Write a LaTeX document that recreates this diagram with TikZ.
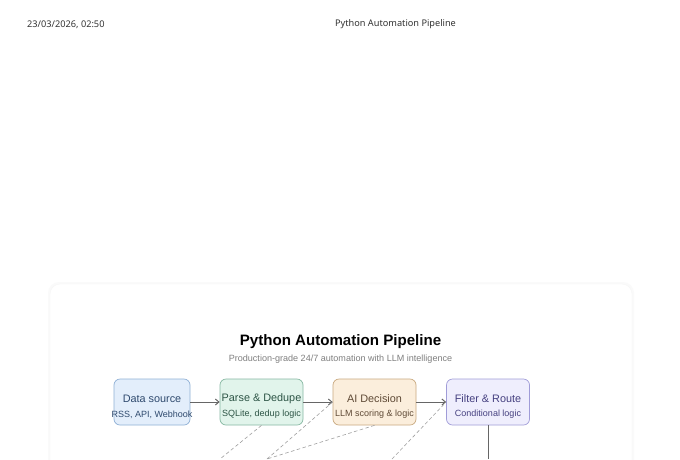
\documentclass[tikz,border=0pt]{standalone}
\usepackage{fontspec}
\setmainfont{Liberation Sans}
\newfontfamily\hdrfont{Noto Sans}
\usetikzlibrary{arrows.meta}
\definecolor{hdrtext}{HTML}{333333}
\definecolor{cardedge}{HTML}{F6F6F6}
\definecolor{arrowc}{HTML}{666666}
\definecolor{dashc}{HTML}{A0A0A0}
\definecolor{subc}{HTML}{808080}
\definecolor{bluef}{HTML}{E3EEFB}\definecolor{blued}{HTML}{8FB0D6}\definecolor{bluet}{HTML}{2F4A6E}
\definecolor{greenf}{HTML}{E1F4EB}\definecolor{greend}{HTML}{86B8A2}\definecolor{greent}{HTML}{2C5445}
\definecolor{orangef}{HTML}{FBEEDC}\definecolor{oranged}{HTML}{C9A97F}\definecolor{oranget}{HTML}{5F4A36}
\definecolor{purplef}{HTML}{EFEEFD}\definecolor{purpled}{HTML}{A09CD8}\definecolor{purplet}{HTML}{454080}
\tikzset{
  x=1pt,y=-1pt,
  hdr/.style={font=\hdrfont\fontsize{9.2}{10}\selectfont,text=hdrtext,inner sep=0pt},
  stagebox/.style={draw=#1d,fill=#1f,rounded corners=6pt,line width=.7pt,minimum height=46pt,inner sep=0pt},
  flow/.style={draw=arrowc,line width=1pt,-{Straight Barb[length=3.5pt,width=6pt]}},
  trunk/.style={draw=arrowc,line width=1pt},
  dashline/.style={draw=dashc,line width=.6pt,dash pattern=on 3.5pt off 2.5pt},
  mainl/.style={font=\fontsize{10.85}{12}\selectfont,inner sep=0pt,anchor=center},
  subl/.style={font=\fontsize{9}{10}\selectfont,inner sep=0pt,anchor=center},
}
\begin{document}
\begin{tikzpicture}
\useasboundingbox (0,0) rectangle (680,459);
\clip (0,0) rectangle (680,459);
\fill[white] (0,0) rectangle (680,459);
% card
\path[fill=black!2,rounded corners=11pt] (48,282) rectangle (634,480);
\path[fill=white,draw=cardedge,line width=.4pt,rounded corners=10pt] (50,284) rectangle (632,480);
% header
\node[hdr,anchor=west] (date) at (27,24.3) {23/03/2026, 02:50};
\node[hdr,anchor=center] (pagetitle) at (395.5,24.3) {Python Automation Pipeline};
% title
\node[font=\bfseries\fontsize{15.1}{17}\selectfont,text=black,inner sep=0pt] (title) at (340.5,342) {Python Automation Pipeline};
\node[font=\fontsize{9.05}{11}\selectfont,text=subc,inner sep=0pt] (subtitle) at (340.5,359.5) {Production-grade 24/7 automation with LLM intelligence};
% boxes
\node[stagebox=blue,minimum width=76pt] (src) at (152,402) {};
\node[stagebox=green,minimum width=83pt] (parse) at (261.5,402) {};
\node[stagebox=orange,minimum width=83pt] (ai) at (374.5,402) {};
\node[stagebox=purple,minimum width=83pt] (filter) at (488,402) {};
% labels
\node[mainl,text=bluet] (l1) at (152,398.5) {Data source};
\node[subl,text=bluet] (s1) at (152,414.6) {RSS, API, Webhook};
\node[mainl,text=greent] (l2) at (261.5,398.5) {Parse \& Dedupe};
\node[subl,text=greent] (s2) at (261.5,414.6) {SQLite, dedup logic};
\node[mainl,text=oranget] (l3) at (374.5,398.5) {AI Decision};
\node[subl,text=oranget] (s3) at (374.5,414.6) {LLM scoring \& logic};
\node[mainl,text=purplet] (l4) at (488,398.5) {Filter \& Route};
\node[subl,text=purplet] (s4) at (488,414.6) {Conditional logic};
% flow
\draw[flow] (src.east) -- (parse.west);
\draw[flow] (parse.east) -- (ai.west);
\draw[flow] (ai.east) -- (filter.west);
\coordinate (d1) at (220,459);
\coordinate (d2) at (267,459);
\coordinate (d3) at (392,459);
\coordinate (v1) at (488,459);
\draw[trunk] (filter.south) -- (v1);
\draw[dashline] (parse.south) -- (d1);
\draw[dashline] (d2) -- (ai.west);
\draw[dashline] (ai.south) -- (d2);
\draw[dashline] (d3) -- (filter.west);
\end{tikzpicture}
\end{document}
